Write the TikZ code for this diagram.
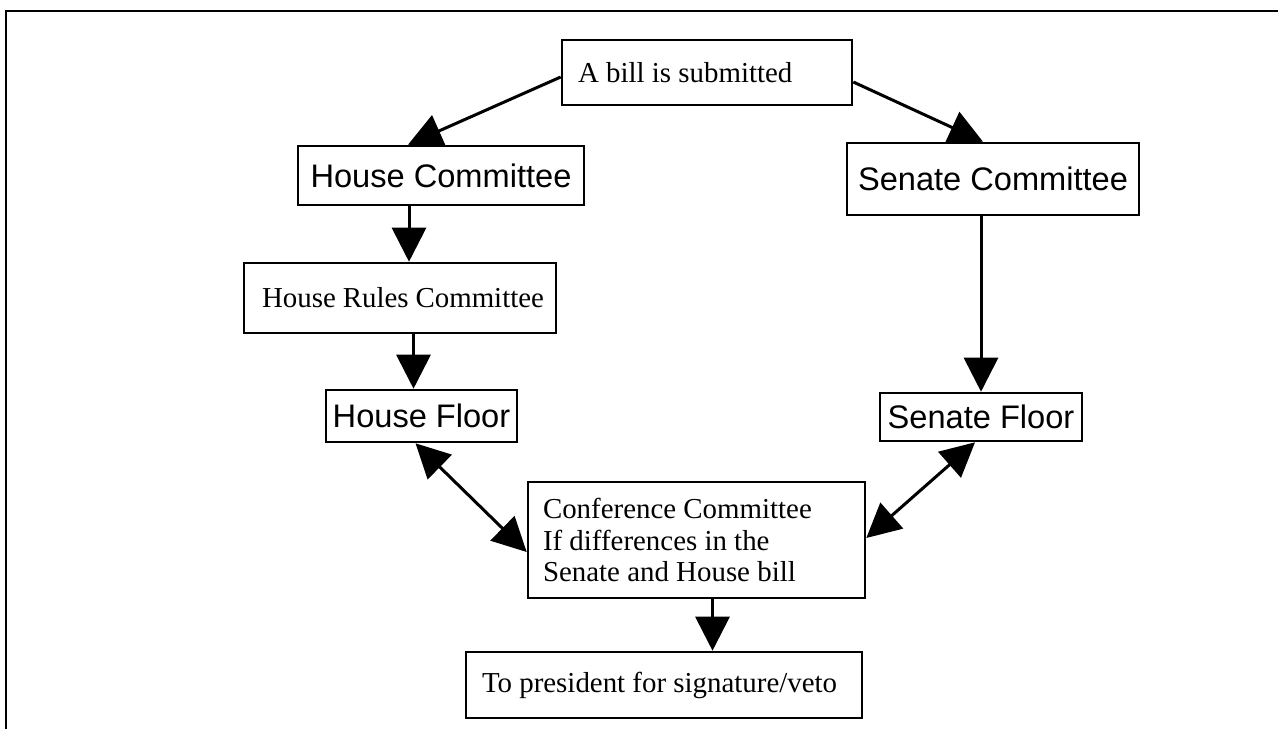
\documentclass[tikz,border=0pt]{standalone}
\usepackage{fontspec}
\setmainfont{Liberation Serif}
\newfontfamily\helv{Liberation Sans}
\usetikzlibrary{arrows.meta}

\tikzset{
  boite/.style={draw, line width=1.3pt, inner ysep=0pt, align=flush left,
    font=\fontsize{14.45}{15.9}\selectfont},
  boitesans/.style={draw, line width=1.3pt, inner sep=0pt, align=center,
    font=\helv\fontsize{16.3}{19}\selectfont},
  fleche/.style={line width=1.5pt, -{Triangle[length=17pt,width=17pt]}},
  fleches/.style={line width=1.5pt, {Triangle[length=17pt,width=17pt]}-{Triangle[length=17pt,width=17pt]}},
}

\begin{document}
\begin{tikzpicture}[x=0.5pt, y=-0.5pt]
\useasboundingbox (0,0) rectangle (1278,729);

%% cadre
\draw[line width=1pt] (1278,11) -- (6,11) -- (6,729);

%% depot du projet
\node[boite, text width=129pt, inner xsep=8pt, minimum height=32.5pt] (bill) at (707,72.5) {A bill is submitted};

%% chambre des representants
\node[boitesans, minimum width=143pt, minimum height=29.5pt] (hc) at (441,175.5) {House Committee};
\node[boite, text width=144pt, inner xsep=6pt, minimum height=35pt] (hr) at (400,298) {\hspace*{3pt}House Rules Committee};
\node[boitesans, minimum width=95.5pt, minimum height=26pt] (hf) at (421.5,416) {House Floor};

%% senat
\node[boitesans, minimum width=146pt, minimum height=36pt] (sc) at (993,179) {Senate Committee};
\node[boitesans, minimum width=101pt, minimum height=24pt] (sf) at (981,417) {Senate Floor};

%% commission mixte
\node[boite, text width=153.5pt, inner xsep=7.5pt, minimum height=58pt] (conf) at (696.5,540)
  {Conference Committee\\If differences in the\\Senate and House bill};

%% president
\node[boite, text width=182pt, inner xsep=8pt, minimum height=33pt] (pres) at (664,685) {To president for signature/veto};

%% fleches
\draw[fleche] ([yshift=-2.25pt]bill.west) -- ([xshift=-16.5pt]hc.north);
\draw[fleche] ([yshift=-4.75pt]bill.east) -- ([xshift=-5pt]sc.north);
\draw[fleche] ([xshift=-16pt]hc.south) -- ([xshift=-16pt]hc.south |- hr.north);
\draw[fleche] ([xshift=-4pt]hf.north |- hr.south) -- ([xshift=-4pt]hf.north);
\draw[fleche] (sf.north |- sc.south) -- (sf.north);
\draw[fleches] ([xshift=-3pt]hf.south) -- ([yshift=-6pt]conf.west);
\draw[fleches] ([xshift=-3pt]sf.south) -- ([yshift=1pt]conf.east);
\draw[fleche] ([xshift=8pt]conf.south) -- ([xshift=8pt]conf.south |- pres.north);

\end{tikzpicture}
\end{document}
